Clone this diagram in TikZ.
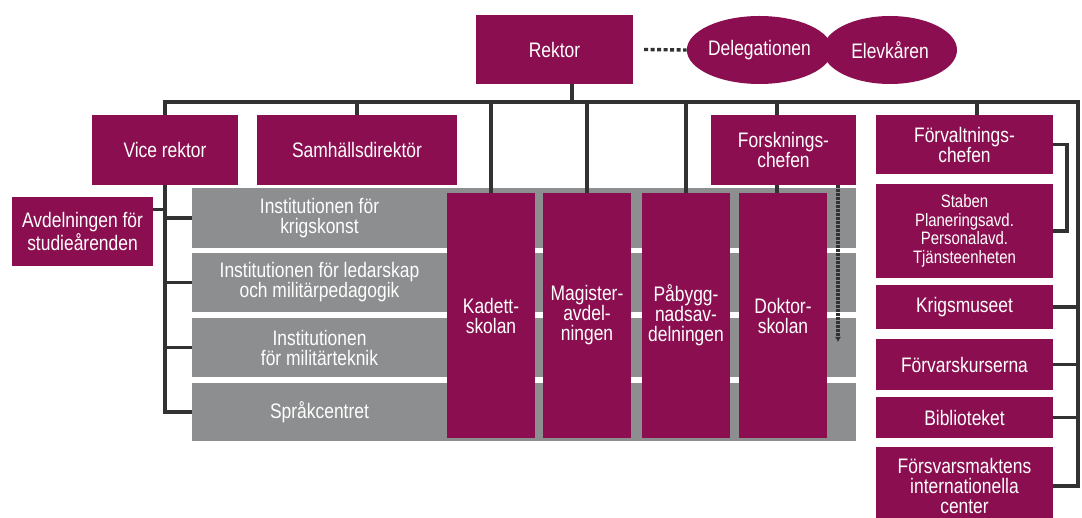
\documentclass[tikz,border=0pt]{standalone}
\usepackage{fontspec}
\setmainfont{Liberation Sans}[FakeStretch=0.83]
\usetikzlibrary{shapes.geometric,arrows.meta}
\definecolor{fhsred}{RGB}{139,15,80}
\definecolor{instgray}{RGB}{141,142,143}
\definecolor{linegray}{RGB}{50,50,50}
\tikzset{
	unit/.style={fill=fhsred, text=white, align=center, inner sep=0pt, font=\fontsize{21}{20}\selectfont},
	smallunit/.style={unit, font=\fontsize{18}{18.5}\selectfont},
	oval/.style={unit, ellipse},
	inst/.style={text=white, align=center, inner sep=0pt, minimum width=255pt, font=\fontsize{21}{20}\selectfont},
	orgline/.style={draw=linegray, line width=3.6pt},
}

\begin{document}
\begin{tikzpicture}[x=1pt, y=-1pt]
			%%%%% START %%%%%
			\useasboundingbox[fill=white] (0,0) rectangle (1082,518);
			
			\coordinate (bus) at (0,102);
			\coordinate (busR) at (1078,102);
			\coordinate (dotend) at (838,342);
			
			% gray rows of the institutions
			\foreach \t/\b in {188/248,253/312,318/377,383/441}
				\fill[instgray] (192,\t) rectangle (856,\b);
			\node[inst, minimum height=60pt] (inst1) at (319.5,218) {Institutionen för\\krigskonst};
			\node[inst, minimum height=59pt] (inst2) at (319.5,282.5) {Institutionen för ledarskap\\och militärpedagogik};
			\node[inst, minimum height=59pt] (inst3) at (319.5,347.5) {Institutionen\\för militärteknik};
			\node[inst, minimum height=58pt] (inst4) at (319.5,412) {Språkcentret};
			
			% top
			\node[unit, minimum width=157pt, minimum height=69pt] (rektor) at (554.5,49.5) {Rektor};
			\node[oval, minimum width=131pt, minimum height=68pt] (deleg) at (759.5,50) {Delegationen};
			\node[oval, minimum width=134pt, minimum height=68pt] (elev) at (890,50) {Elevkåren};
			
			% second row
			\node[unit, minimum width=146pt, minimum height=70pt] (vice) at (165,150) {Vice rektor};
			\node[unit, minimum width=200pt, minimum height=70pt] (samh) at (357,150) {Samhällsdirektör};
			\node[unit, minimum width=145pt, minimum height=70pt] (forsk) at (783.5,150) {Forsknings-\\chefen};
			\node[unit, minimum width=177pt, minimum height=59pt] (forv) at (964.5,144.5) {Förvaltnings-\\chefen};
			\node[unit, minimum width=141pt, minimum height=69pt] (avd) at (82.5,231.5) {Avdelningen för\\studieårenden};
			
			% schools
			\node[unit, minimum width=88pt, minimum height=245pt] (kadett) at (491,315.5) {Kadett-\\skolan};
			\node[unit, minimum width=88pt, minimum height=245pt] (magister) at (587,315.5) {Magister-\\avdel-\\ningen};
			\node[unit, minimum width=88pt, minimum height=245pt] (pabygg) at (686,315.5) {Påbygg-\\nadsav-\\delningen};
			\node[unit, minimum width=88pt, minimum height=245pt] (doktor) at (783,315.5) {Doktor-\\skolan};
			
			% administration
			\node[smallunit, minimum width=177pt, minimum height=94pt] (staben) at (964.5,231) {Staben\\Planeringsavd.\\Personalavd.\\Tjänsteenheten};
			\node[unit, minimum width=177pt, minimum height=44pt] (krig) at (964.5,307) {Krigsmuseet};
			\node[unit, minimum width=177pt, minimum height=51pt] (forvk) at (964.5,364.5) {Förvarskurserna};
			\node[unit, minimum width=177pt, minimum height=41pt] (bibl) at (964.5,417.5) {Biblioteket};
			\node[unit, minimum width=177pt, minimum height=78pt] (fmic) at (964.5,486) {Försvarsmaktens\\internationella\\center};
			
			% lines
			\draw[orgline] ([xshift=17.5pt]rektor.south) -- ([xshift=17.5pt]rektor.south |- bus);
			\draw[orgline] (vice.north) -- (vice.north |- bus) -- (busR) -- (busR |- fmic.east) -- (fmic.east);
			\foreach \n in {samh,kadett,magister,pabygg}
				\draw[orgline] (\n.north |- bus) -- (\n.north);
			\draw[orgline] ([xshift=-6.5pt]forsk.north |- bus) -- ([xshift=-6.5pt]forsk.north);
			\draw[orgline] ([xshift=-6.5pt]forsk.south) -- ([xshift=-6.5pt]forsk.south |- doktor.north);
			\draw[orgline] ([xshift=12.5pt]forv.north |- bus) -- ([xshift=12.5pt]forv.north);
			\draw[orgline] (forv.east) -- ++(14,0) |- (staben.east);
			\foreach \n in {krig,forvk,bibl}
				\draw[orgline] (\n.east) -- (\n.east -| busR);
			
			\draw[orgline] (vice.south) |- (inst4.west);
			\foreach \n in {inst1,inst2,inst3}
				\draw[orgline] (vice.south |- \n.west) -- (\n.west);
			\draw[orgline] ([yshift=22pt]avd.east) -- ([yshift=22pt]avd.east -| vice.south);
			
			\draw[linegray, line width=3.4pt, dash pattern=on 4pt off 2.5pt] ([xshift=11pt]rektor.east) -- (deleg.west);
			\draw[linegray, line width=3.4pt, dash pattern=on 2.5pt off 1.5pt, -{Latex[length=5pt,width=6pt]}] (forsk.south -| dotend) -- (dotend);
			
			%%%%% END %%%%%
\end{tikzpicture}
\end{document}
